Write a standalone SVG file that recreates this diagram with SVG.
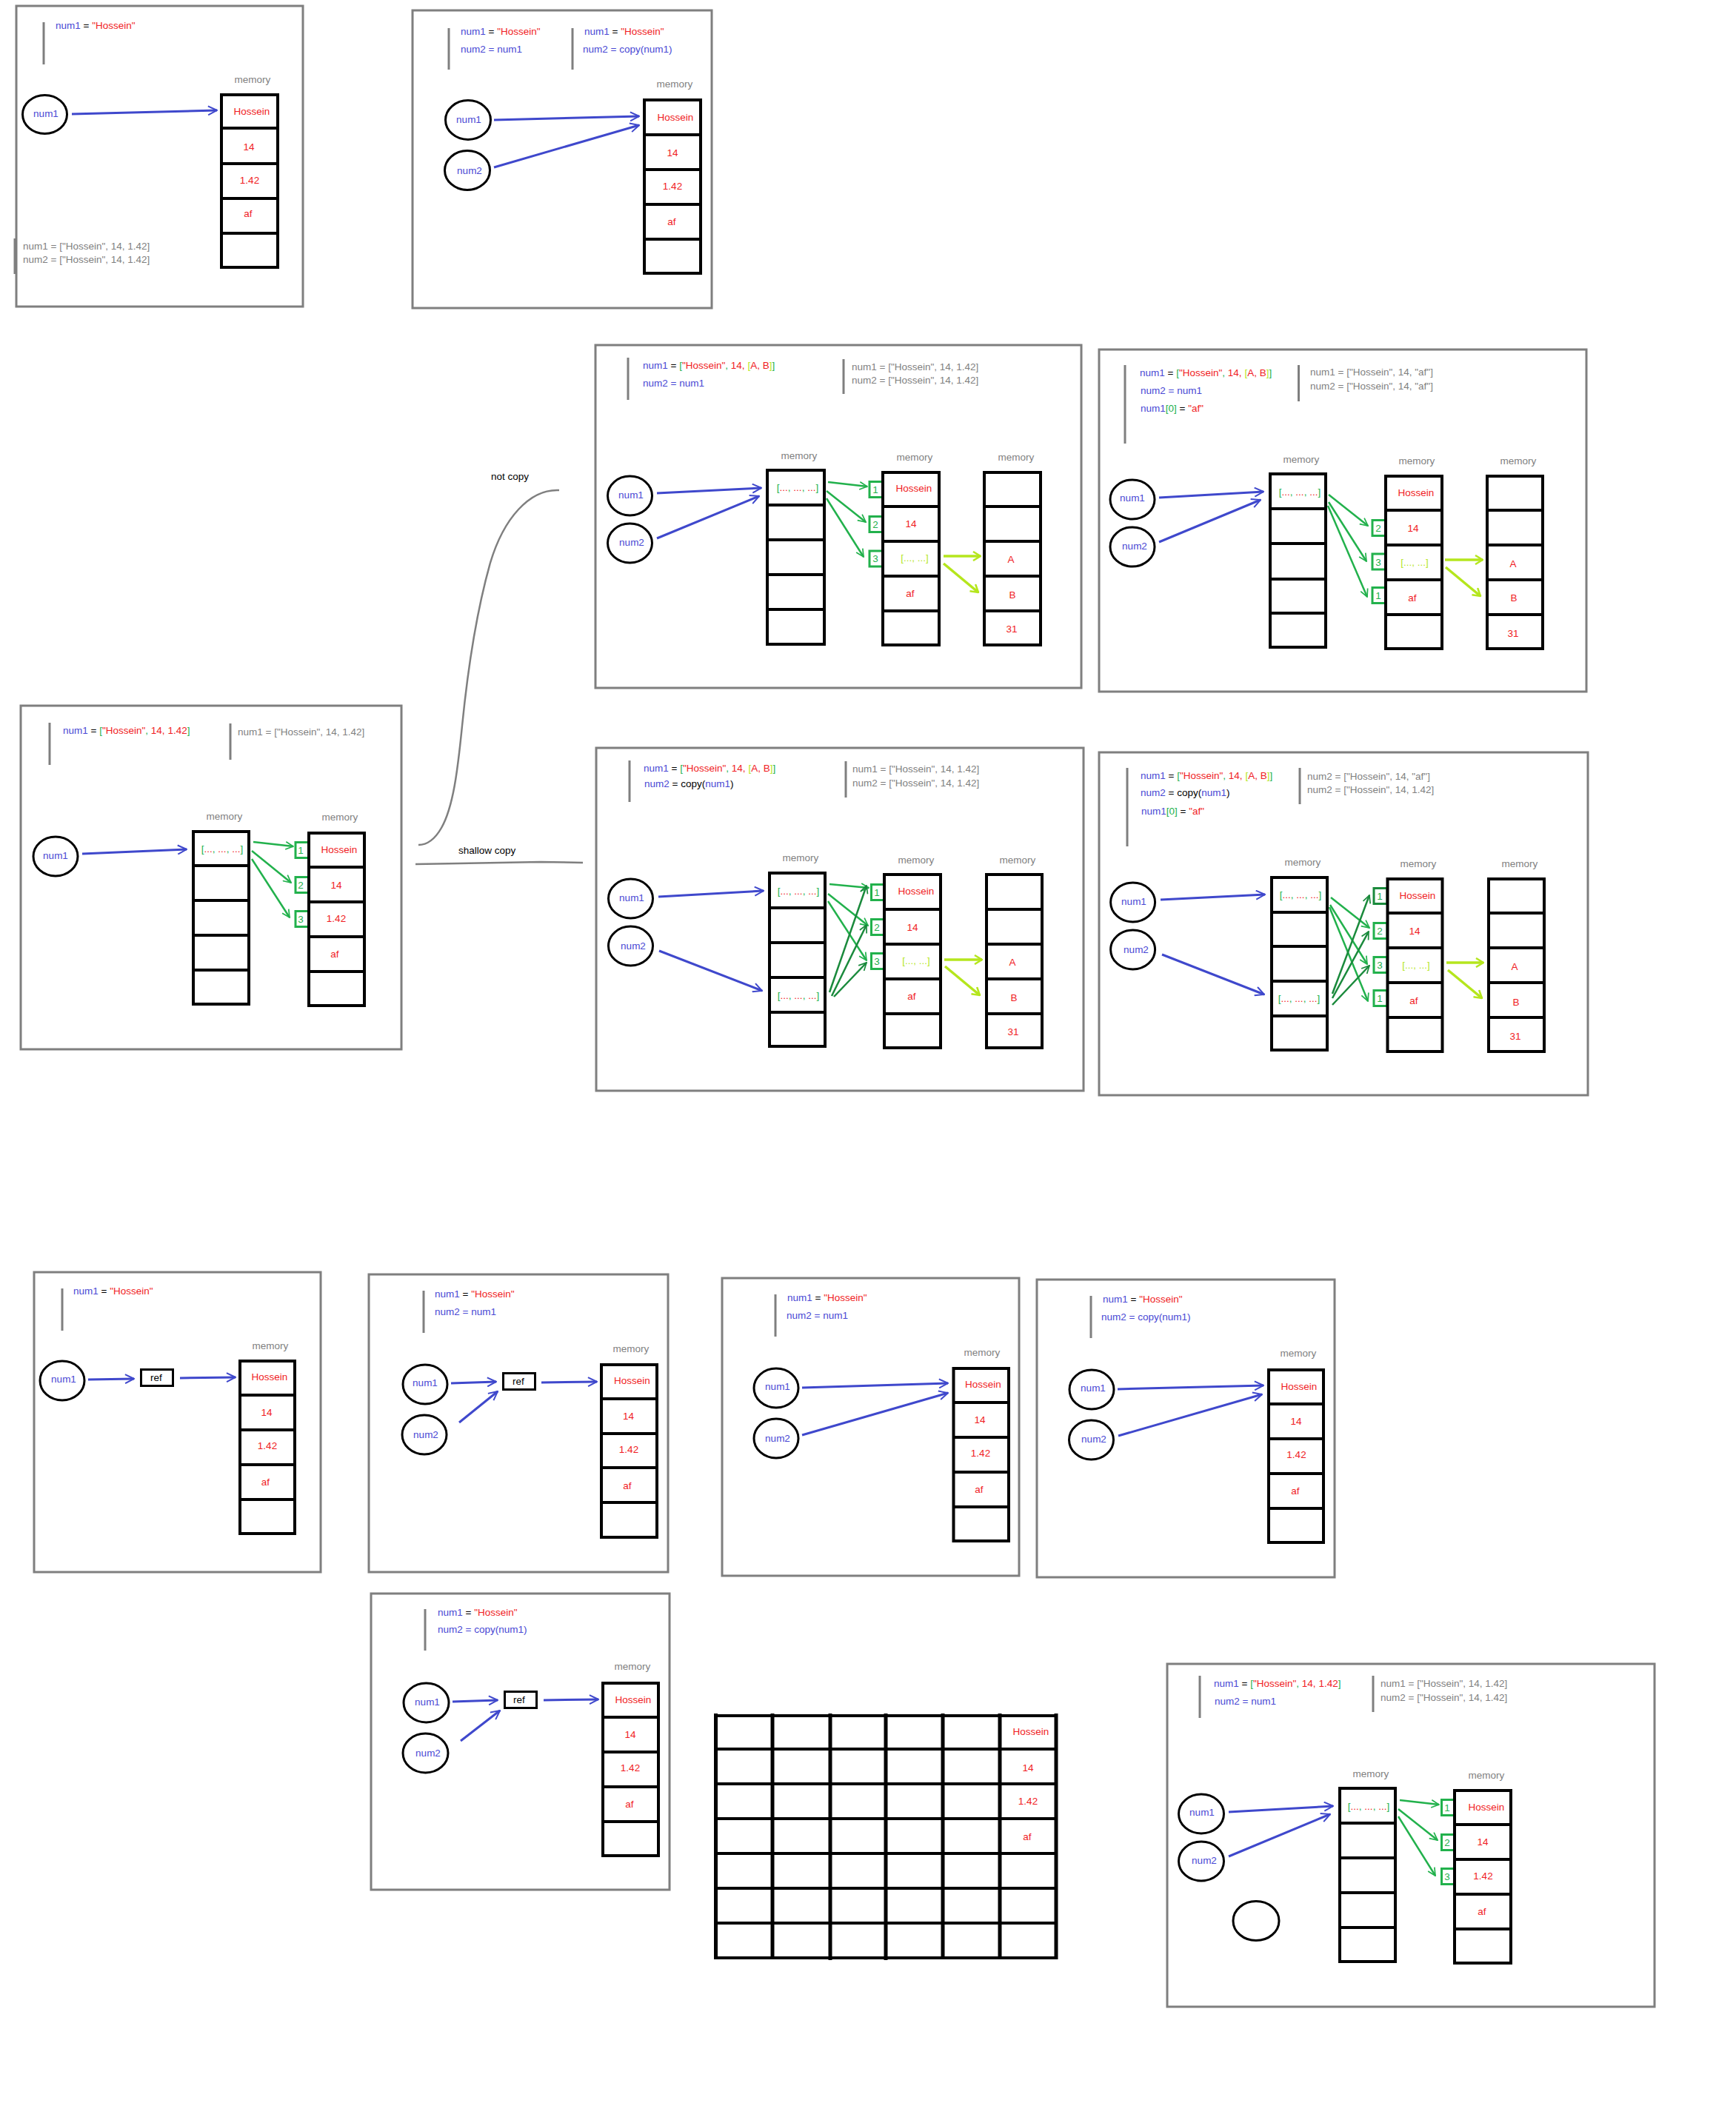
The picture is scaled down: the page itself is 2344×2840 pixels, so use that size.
<svg xmlns="http://www.w3.org/2000/svg" width="2344" height="2840" viewBox="0 0 2344 2840">
<defs>
<style>
.f{fill:none;stroke:#7f7f7f;stroke-width:3}
.bar{stroke:#7f7f7f;stroke-width:3}
.m{fill:#fff;stroke:#000;stroke-width:4}
.d{fill:none;stroke:#000;stroke-width:4}
.v{fill:#fff;stroke:#000;stroke-width:3}
.rf{fill:#fff;stroke:#000;stroke-width:3}
.bx{fill:#fff;stroke:#22b14c;stroke-width:3}
.bxd{fill:#fff;stroke:#1a8a3c;stroke-width:3}
text{font-family:"Liberation Sans",Arial,sans-serif;font-size:13.5px;fill:#000}
.c{text-anchor:middle}
.b{fill:#4848d4}
.r{fill:#f01c24}
.g{fill:#7f7f7f}
.gr{fill:#22b14c}
.y{fill:#b5e61d}
.ab{stroke:#3f48cc;stroke-width:3;fill:none;marker-end:url(#mb)}
.ag{stroke:#22b14c;stroke-width:2.5;fill:none;marker-end:url(#mg)}
.ad{stroke:#1a8a3c;stroke-width:2.5;fill:none;marker-end:url(#md)}
.ay{stroke:#b5e61d;stroke-width:3.5;fill:none;marker-end:url(#my)}
.cv{fill:none;stroke:#7f7f7f;stroke-width:2.5}
.gl{fill:none;stroke:#000;stroke-width:5}
.gh{fill:none;stroke:#000;stroke-width:4}
</style>
<marker id="mb" viewBox="0 0 14 14" refX="13" refY="7" markerWidth="14" markerHeight="14" markerUnits="userSpaceOnUse" orient="auto"><path d="M1,1 L13,7 L1,13" fill="none" stroke="#3f48cc" stroke-width="2"/></marker>
<marker id="mg" viewBox="0 0 14 14" refX="13" refY="7" markerWidth="12" markerHeight="12" markerUnits="userSpaceOnUse" orient="auto"><path d="M1,1 L13,7 L1,13" fill="none" stroke="#22b14c" stroke-width="2"/></marker>
<marker id="md" viewBox="0 0 14 14" refX="13" refY="7" markerWidth="12" markerHeight="12" markerUnits="userSpaceOnUse" orient="auto"><path d="M1,1 L13,7 L1,13" fill="none" stroke="#1a8a3c" stroke-width="2"/></marker>
<marker id="my" viewBox="0 0 14 14" refX="13" refY="7" markerWidth="14" markerHeight="14" markerUnits="userSpaceOnUse" orient="auto"><path d="M3,1 L13,7 L3,13" fill="none" stroke="#b5e61d" stroke-width="2.5"/></marker>
</defs>
<rect width="2344" height="2840" fill="#fff"/>

<!-- Panel 1 -->
<g id="p1">
<rect class="f" x="22" y="8" width="387" height="406"/>
<g id="p1-code">
<line class="bar" x1="59" y1="30" x2="59" y2="87"/>
<text x="75" y="39"><tspan class="b">num1</tspan> = <tspan class="r">"Hossein"</tspan></text>
<line x1="20.5" y1="322" x2="20.5" y2="370" stroke="#7f7f7f" stroke-width="4"/>
<text class="g" x="31" y="337">num1 = ["Hossein", 14, 1.42]</text>
<text class="g" x="31" y="355">num2 = ["Hossein", 14, 1.42]</text>
</g>
<g id="p1-num1"><ellipse class="v" cx="60.5" cy="154.5" rx="30" ry="26"/><text class="c b" x="62" y="158">num1</text></g>
<g id="p1-mem">
<text class="c g" x="341" y="112">memory</text>
<rect class="m" x="299" y="128" width="76" height="233"/>
<path class="d" d="M299 173H375M299 221H375M299 268H375M299 315H375"/>
<text class="c r" x="340" y="155">Hossein</text><text class="c r" x="336" y="203">14</text><text class="c r" x="337" y="248">1.42</text><text class="c r" x="335" y="293">af</text>
</g>
<g id="p1-connectors"><line class="ab" x1="97" y1="154" x2="293" y2="149"/></g>
</g>

<!-- Panel 2 -->
<g id="p2">
<rect class="f" x="557" y="14" width="404" height="402"/>
<g id="p2-code">
<line class="bar" x1="606" y1="38" x2="606" y2="94"/>
<text x="622" y="47"><tspan class="b">num1</tspan> = <tspan class="r">"Hossein"</tspan></text>
<text x="622" y="71" class="b">num2 = num1</text>
<line class="bar" x1="773" y1="38" x2="773" y2="94"/>
<text x="789" y="47"><tspan class="b">num1</tspan> = <tspan class="r">"Hossein"</tspan></text>
<text x="787" y="71" class="b">num2 = copy(num1)</text>
</g>
<g id="p2-num1"><ellipse class="v" cx="632" cy="162" rx="30.5" ry="26.5"/><text class="c b" x="633" y="166">num1</text></g>
<g id="p2-num2"><ellipse class="v" cx="631" cy="230" rx="30.5" ry="26.5"/><text class="c b" x="634" y="235">num2</text></g>
<g id="p2-mem">
<text class="c g" x="911" y="118">memory</text>
<rect class="m" x="870" y="135" width="76" height="234"/>
<path class="d" d="M870 182H946M870 229H946M870 276H946M870 323H946"/>
<text class="c r" x="912" y="163">Hossein</text><text class="c r" x="908" y="211">14</text><text class="c r" x="908" y="256">1.42</text><text class="c r" x="907" y="304">af</text>
</g>
<g id="p2-connectors">
<line class="ab" x1="667" y1="162" x2="863" y2="157"/>
<line class="ab" x1="667" y1="226" x2="863" y2="169"/>
</g>
</g>

<!-- Annotations between panels -->
<g id="annotations">
<path class="cv" d="M755,662 C715,660 680,700 662,760 C645,820 632,900 624,980 C618,1040 612,1090 596,1118 C588,1132 578,1141 565,1141"/>
<text x="663" y="648">not copy</text>
<text x="619" y="1153">shallow copy</text>
<path class="cv" d="M561,1167 L620,1166 L675,1165 L730,1164 L787,1165" stroke-width="3"/>
</g>

<!-- Panel 3 -->
<g id="p3">
<rect class="f" x="804" y="466" width="656" height="463"/>
<g id="p3-code">
<line class="bar" x1="848" y1="483" x2="848" y2="540"/>
<text x="868" y="498"><tspan class="b">num1</tspan> = <tspan class="gr">[</tspan><tspan class="r">"Hossein"</tspan><tspan class="gr">,</tspan> <tspan class="r">14,</tspan> <tspan class="y">[</tspan><tspan class="r">A,</tspan> <tspan class="r">B</tspan><tspan class="y">]</tspan><tspan class="gr">]</tspan></text>
<text x="868" y="522" class="b">num2 = num1</text>
<line class="bar" x1="1139" y1="485" x2="1139" y2="532"/>
<text class="g" x="1150" y="500">num1 = ["Hossein", 14, 1.42]</text>
<text class="g" x="1150" y="518">num2 = ["Hossein", 14, 1.42]</text>
</g>
<g id="p3-num1"><ellipse class="v" cx="850.5" cy="669.5" rx="30" ry="26.5"/><text class="c b" x="852" y="673">num1</text></g>
<g id="p3-num2"><ellipse class="v" cx="850.5" cy="733.5" rx="30" ry="26.5"/><text class="c b" x="853" y="737">num2</text></g>
<g id="p3-mem1">
<text class="c g" x="1079" y="620">memory</text>
<rect class="m" x="1036" y="635" width="77" height="235"/>
<path class="d" d="M1036 682H1113M1036 729H1113M1036 776H1113M1036 823H1113"/>
<text class="c" x="1077" y="663"><tspan class="gr">[</tspan><tspan class="r">...</tspan><tspan class="gr">,</tspan> <tspan class="r">...</tspan><tspan class="gr">,</tspan> <tspan class="r">...</tspan><tspan class="gr">]</tspan></text>
</g>
<g id="p3-mem2">
<text class="c g" x="1235" y="622">memory</text>
<rect class="bx" x="1174" y="650.5" width="18" height="21"/><text class="c gr" x="1182" y="666">1</text>
<rect class="bx" x="1174" y="697.5" width="18" height="21"/><text class="c gr" x="1182" y="713">2</text>
<rect class="bx" x="1174" y="744" width="18" height="21"/><text class="c gr" x="1182" y="759">3</text>
<rect class="m" x="1192" y="638" width="76" height="233"/>
<path class="d" d="M1192 684H1268M1192 731H1268M1192 778H1268M1192 825H1268"/>
<text class="c r" x="1234" y="664">Hossein</text><text class="c r" x="1230" y="712">14</text><text class="c y" x="1235" y="758">[..., ...]</text><text class="c r" x="1229" y="806">af</text>
</g>
<g id="p3-mem3">
<text class="c g" x="1372" y="622">memory</text>
<rect class="m" x="1329" y="638" width="76" height="233"/>
<path class="d" d="M1329 684H1405M1329 731H1405M1329 778H1405M1329 825H1405"/>
<text class="c r" x="1365" y="760">A</text><text class="c r" x="1367" y="808">B</text><text class="c r" x="1366" y="854">31</text>
</g>
<g id="p3-connectors">
<line class="ab" x1="887" y1="666" x2="1028" y2="659"/>
<line class="ab" x1="887" y1="727" x2="1025" y2="670"/>
<line class="ag" x1="1118" y1="651" x2="1171" y2="657"/>
<line class="ag" x1="1116" y1="663" x2="1169" y2="705"/>
<line class="ag" x1="1116" y1="673" x2="1166" y2="752"/>
<line class="ay" x1="1274" y1="751" x2="1324" y2="751"/>
<line class="ay" x1="1274" y1="761" x2="1321" y2="800"/>
</g>
</g>

<!-- Panel 4 -->
<g id="p4">
<rect class="f" x="1484" y="472" width="658" height="462"/>
<g id="p4-code">
<line class="bar" x1="1519" y1="493" x2="1519" y2="599"/>
<text x="1539" y="508"><tspan class="b">num1</tspan> = <tspan class="gr">[</tspan><tspan class="r">"Hossein"</tspan><tspan class="gr">,</tspan> <tspan class="r">14,</tspan> <tspan class="y">[</tspan><tspan class="r">A,</tspan> <tspan class="r">B</tspan><tspan class="y">]</tspan><tspan class="gr">]</tspan></text>
<text x="1540" y="532" class="b">num2 = num1</text>
<text x="1540" y="556"><tspan class="b">num1</tspan><tspan class="gr">[0]</tspan> = <tspan class="r">"af"</tspan></text>
<line class="bar" x1="1753.5" y1="493" x2="1753.5" y2="542"/>
<text class="g" x="1769" y="507">num1 = ["Hossein", 14, "af"]</text>
<text class="g" x="1769" y="526">num2 = ["Hossein", 14, "af"]</text>
</g>
<g id="p4-num1"><ellipse class="v" cx="1529" cy="674.5" rx="30" ry="26.5"/><text class="c b" x="1529" y="677">num1</text></g>
<g id="p4-num2"><ellipse class="v" cx="1529" cy="738.5" rx="30" ry="26.5"/><text class="c b" x="1532" y="742">num2</text></g>
<g id="p4-mem1">
<text class="c g" x="1757" y="625">memory</text>
<rect class="m" x="1715" y="640" width="75" height="234"/>
<path class="d" d="M1715 687H1790M1715 734H1790M1715 782H1790M1715 828H1790"/>
<text class="c" x="1755" y="669"><tspan class="gr">[</tspan><tspan class="r">...</tspan><tspan class="gr">,</tspan> <tspan class="r">...</tspan><tspan class="gr">,</tspan> <tspan class="r">...</tspan><tspan class="gr">]</tspan></text>
</g>
<g id="p4-mem2">
<text class="c g" x="1913" y="627">memory</text>
<rect class="bx" x="1853" y="702.5" width="18" height="21"/><text class="c gr" x="1861" y="718">2</text>
<rect class="bx" x="1853" y="748" width="18" height="21"/><text class="c gr" x="1861" y="764">3</text>
<rect class="bx" x="1853" y="793.5" width="18" height="21"/><text class="c gr" x="1861" y="809">1</text>
<rect class="m" x="1871" y="643" width="76" height="233"/>
<path class="d" d="M1871 689H1947M1871 736H1947M1871 783H1947M1871 830H1947"/>
<text class="c r" x="1912" y="670">Hossein</text><text class="c r" x="1908" y="718">14</text><text class="c y" x="1910" y="764">[..., ...]</text><text class="c r" x="1907" y="812">af</text>
</g>
<g id="p4-mem3">
<text class="c g" x="2050" y="627">memory</text>
<rect class="m" x="2008" y="643" width="75" height="233"/>
<path class="d" d="M2008 689H2083M2008 736H2083M2008 783H2083M2008 830H2083"/>
<text class="c r" x="2043" y="766">A</text><text class="c r" x="2044" y="812">B</text><text class="c r" x="2043" y="860">31</text>
</g>
<g id="p4-connectors">
<line class="ab" x1="1565" y1="672" x2="1706" y2="664"/>
<line class="ab" x1="1565" y1="732" x2="1702" y2="675"/>
<line class="ag" x1="1794" y1="668" x2="1847" y2="710"/>
<line class="ag" x1="1794" y1="678" x2="1845" y2="758"/>
<line class="ag" x1="1793" y1="683" x2="1846" y2="806"/>
<line class="ay" x1="1951" y1="756" x2="2002" y2="756"/>
<line class="ay" x1="1952" y1="766" x2="1999" y2="805"/>
</g>
</g>

<!-- Panel 5 -->
<g id="p5">
<rect class="f" x="28" y="953" width="514" height="464"/>
<g id="p5-code">
<line class="bar" x1="67" y1="976" x2="67" y2="1033"/>
<text x="85" y="991"><tspan class="b">num1</tspan> = <tspan class="gr">[</tspan><tspan class="r">"Hossein"</tspan><tspan class="gr">,</tspan> <tspan class="r">14,</tspan> <tspan class="r">1.42</tspan><tspan class="gr">]</tspan></text>
<line class="bar" x1="311" y1="977" x2="311" y2="1026"/>
<text class="g" x="321" y="993">num1 = ["Hossein", 14, 1.42]</text>
</g>
<g id="p5-num1"><ellipse class="v" cx="75" cy="1156.5" rx="30" ry="26.5"/><text class="c b" x="75" y="1160">num1</text></g>
<g id="p5-mem1">
<text class="c g" x="303" y="1107">memory</text>
<rect class="m" x="261" y="1123" width="75" height="233"/>
<path class="d" d="M261 1169H336M261 1216H336M261 1263H336M261 1310H336"/>
<text class="c" x="300" y="1151"><tspan class="gr">[</tspan><tspan class="r">...</tspan><tspan class="gr">,</tspan> <tspan class="r">...</tspan><tspan class="gr">,</tspan> <tspan class="r">...</tspan><tspan class="gr">]</tspan></text>
</g>
<g id="p5-mem2">
<text class="c g" x="459" y="1108">memory</text>
<rect class="bx" x="399" y="1137.5" width="18" height="21"/><text class="c gr" x="406" y="1153">1</text>
<rect class="bx" x="399" y="1184.5" width="18" height="21"/><text class="c gr" x="406" y="1200">2</text>
<rect class="bx" x="399" y="1230.5" width="18" height="21"/><text class="c gr" x="406" y="1246">3</text>
<rect class="m" x="417" y="1125" width="75" height="233"/>
<path class="d" d="M417 1171H492M417 1218H492M417 1265H492M417 1312H492"/>
<text class="c r" x="458" y="1152">Hossein</text><text class="c r" x="454" y="1200">14</text><text class="c r" x="454" y="1245">1.42</text><text class="c r" x="452" y="1293">af</text>
</g>
<g id="p5-connectors">
<line class="ab" x1="111" y1="1153" x2="252" y2="1147"/>
<line class="ag" x1="342" y1="1137" x2="396" y2="1143"/>
<line class="ag" x1="340" y1="1149" x2="393" y2="1192"/>
<line class="ag" x1="340" y1="1160" x2="391" y2="1239"/>
</g>
</g>

<!-- Panel 6 -->
<g id="p6">
<rect class="f" x="805" y="1010" width="658" height="463"/>
<g id="p6-code">
<line class="bar" x1="850" y1="1027" x2="850" y2="1083"/>
<text x="869" y="1042"><tspan class="b">num1</tspan> = <tspan class="gr">[</tspan><tspan class="r">"Hossein"</tspan><tspan class="gr">,</tspan> <tspan class="r">14,</tspan> <tspan class="y">[</tspan><tspan class="r">A,</tspan> <tspan class="r">B</tspan><tspan class="y">]</tspan><tspan class="gr">]</tspan></text>
<text x="870" y="1063"><tspan class="b">num2</tspan> = copy(<tspan class="b">num1</tspan>)</text>
<line class="bar" x1="1142" y1="1028" x2="1142" y2="1077"/>
<text class="g" x="1151" y="1043">num1 = ["Hossein", 14, 1.42]</text>
<text class="g" x="1151" y="1062">num2 = ["Hossein", 14, 1.42]</text>
</g>
<g id="p6-num1"><ellipse class="v" cx="851.5" cy="1213.5" rx="30" ry="26.5"/><text class="c b" x="853" y="1217">num1</text></g>
<g id="p6-num2"><ellipse class="v" cx="851.5" cy="1277.5" rx="30" ry="26.5"/><text class="c b" x="855" y="1282">num2</text></g>
<g id="p6-mem1">
<text class="c g" x="1081" y="1163">memory</text>
<rect class="m" x="1039" y="1179" width="75" height="234"/>
<path class="d" d="M1039 1226H1114M1039 1273H1114M1039 1320H1114M1039 1367H1114"/>
<text class="c" x="1078" y="1208"><tspan class="gr">[</tspan><tspan class="r">...</tspan><tspan class="gr">,</tspan> <tspan class="r">...</tspan><tspan class="gr">,</tspan> <tspan class="r">...</tspan><tspan class="gr">]</tspan></text>
<text class="c" x="1078" y="1349"><tspan class="gr">[</tspan><tspan class="r">...</tspan><tspan class="gr">,</tspan> <tspan class="r">...</tspan><tspan class="gr">,</tspan> <tspan class="r">...</tspan><tspan class="gr">]</tspan></text>
</g>
<g id="p6-mem2">
<text class="c g" x="1237" y="1166">memory</text>
<rect class="bx" x="1176.5" y="1194.5" width="17.5" height="21"/><text class="c gr" x="1184" y="1210">1</text>
<rect class="bx" x="1176.5" y="1241.5" width="17.5" height="21"/><text class="c gr" x="1184" y="1257">2</text>
<rect class="bx" x="1176.5" y="1287.5" width="17.5" height="21"/><text class="c gr" x="1184" y="1303">3</text>
<rect class="m" x="1194" y="1181" width="76" height="234"/>
<path class="d" d="M1194 1228H1270M1194 1275H1270M1194 1322H1270M1194 1369H1270"/>
<text class="c r" x="1237" y="1208">Hossein</text><text class="c r" x="1232" y="1257">14</text><text class="c y" x="1237" y="1302">[..., ...]</text><text class="c r" x="1231" y="1350">af</text>
</g>
<g id="p6-mem3">
<text class="c g" x="1374" y="1166">memory</text>
<rect class="m" x="1332" y="1181" width="75" height="234"/>
<path class="d" d="M1332 1228H1407M1332 1275H1407M1332 1322H1407M1332 1369H1407"/>
<text class="c r" x="1367" y="1304">A</text><text class="c r" x="1369" y="1352">B</text><text class="c r" x="1368" y="1398">31</text>
</g>
<g id="p6-connectors">
<line class="ab" x1="889" y1="1211" x2="1031" y2="1203"/>
<line class="ab" x1="890" y1="1284" x2="1029" y2="1338"/>
<line class="ag" x1="1120" y1="1194" x2="1173" y2="1199"/>
<line class="ag" x1="1118" y1="1207" x2="1172" y2="1250"/>
<line class="ag" x1="1118" y1="1217" x2="1170" y2="1297"/>
<line class="ad" x1="1120" y1="1340" x2="1170" y2="1196"/>
<line class="ad" x1="1123" y1="1345" x2="1170" y2="1249"/>
<line class="ad" x1="1126" y1="1346" x2="1170" y2="1300"/>
<line class="ay" x1="1275" y1="1296" x2="1326" y2="1296"/>
<line class="ay" x1="1276" y1="1305" x2="1323" y2="1344"/>
</g>
</g>

<!-- Panel 7 -->
<g id="p7">
<rect class="f" x="1484" y="1016" width="660" height="463"/>
<g id="p7-code">
<line class="bar" x1="1522" y1="1037" x2="1522" y2="1143"/>
<text x="1540" y="1052"><tspan class="b">num1</tspan> = <tspan class="gr">[</tspan><tspan class="r">"Hossein"</tspan><tspan class="gr">,</tspan> <tspan class="r">14,</tspan> <tspan class="y">[</tspan><tspan class="r">A,</tspan> <tspan class="r">B</tspan><tspan class="y">]</tspan><tspan class="gr">]</tspan></text>
<text x="1540" y="1075"><tspan class="b">num2</tspan> = copy(<tspan class="b">num1</tspan>)</text>
<text x="1541" y="1100"><tspan class="b">num1</tspan><tspan class="gr">[0]</tspan> = <tspan class="r">"af"</tspan></text>
<line class="bar" x1="1755" y1="1037" x2="1755" y2="1086"/>
<text class="g" x="1765" y="1053">num2 = ["Hossein", 14, "af"]</text>
<text class="g" x="1765" y="1071">num2 = ["Hossein", 14, 1.42]</text>
</g>
<g id="p7-num1"><ellipse class="v" cx="1529.6" cy="1218.5" rx="30" ry="26.5"/><text class="c b" x="1531" y="1222">num1</text></g>
<g id="p7-num2"><ellipse class="v" cx="1529.6" cy="1282.5" rx="30" ry="26.5"/><text class="c b" x="1534" y="1287">num2</text></g>
<g id="p7-mem1">
<text class="c g" x="1759" y="1169">memory</text>
<rect class="m" x="1717" y="1185" width="75" height="233"/>
<path class="d" d="M1717 1232H1792M1717 1278H1792M1717 1325H1792M1717 1372H1792"/>
<text class="c" x="1756" y="1213"><tspan class="gr">[</tspan><tspan class="r">...</tspan><tspan class="gr">,</tspan> <tspan class="r">...</tspan><tspan class="gr">,</tspan> <tspan class="r">...</tspan><tspan class="gr">]</tspan></text>
<text class="c" x="1754" y="1353"><tspan class="gr">[</tspan><tspan class="r">...</tspan><tspan class="gr">,</tspan> <tspan class="r">...</tspan><tspan class="gr">,</tspan> <tspan class="r">...</tspan><tspan class="gr">]</tspan></text>
</g>
<g id="p7-mem2">
<text class="c g" x="1915" y="1171">memory</text>
<rect class="bxd" x="1855" y="1199.5" width="18" height="21"/><text class="c gr" x="1863" y="1215">1</text>
<rect class="bx" x="1855" y="1246.5" width="18" height="21"/><text class="c gr" x="1863" y="1262">2</text>
<rect class="bx" x="1855" y="1292.5" width="18" height="21"/><text class="c gr" x="1863" y="1308">3</text>
<rect class="bx" x="1855" y="1337.5" width="18" height="21"/><text class="c gr" x="1863" y="1353">1</text>
<rect class="m" x="1873.5" y="1187" width="74" height="233"/>
<path class="d" d="M1873.5 1233H1947.5M1873.5 1280H1947.5M1873.5 1327H1947.5M1873.5 1374H1947.5"/>
<text class="c r" x="1914" y="1214">Hossein</text><text class="c r" x="1910" y="1262">14</text><text class="c y" x="1912" y="1308">[..., ...]</text><text class="c r" x="1909" y="1356">af</text>
</g>
<g id="p7-mem3">
<text class="c g" x="2052" y="1171">memory</text>
<rect class="m" x="2010" y="1187" width="75" height="233"/>
<path class="d" d="M2010 1233H2085M2010 1280H2085M2010 1327H2085M2010 1374H2085"/>
<text class="c r" x="2045" y="1310">A</text><text class="c r" x="2047" y="1358">B</text><text class="c r" x="2046" y="1404">31</text>
</g>
<g id="p7-connectors">
<line class="ab" x1="1567" y1="1215" x2="1708" y2="1208"/>
<line class="ab" x1="1569" y1="1289" x2="1707" y2="1343"/>
<line class="ag" x1="1797" y1="1212" x2="1849" y2="1253"/>
<line class="ag" x1="1796" y1="1222" x2="1846" y2="1302"/>
<line class="ag" x1="1795" y1="1225" x2="1847" y2="1352"/>
<line class="ad" x1="1799" y1="1342" x2="1849" y2="1209"/>
<line class="ad" x1="1799" y1="1348" x2="1848" y2="1258"/>
<line class="ad" x1="1799" y1="1357" x2="1849" y2="1304"/>
<line class="ay" x1="1953" y1="1300" x2="2003" y2="1300"/>
<line class="ay" x1="1955" y1="1310" x2="2001" y2="1348"/>
</g>
</g>

<!-- Panel 8 -->
<g id="p8">
<rect class="f" x="46" y="1718" width="387" height="405"/>
<g id="p8-code">
<line class="bar" x1="84" y1="1740" x2="84" y2="1797"/>
<text x="99" y="1748"><tspan class="b">num1</tspan> = <tspan class="r">"Hossein"</tspan></text>
</g>
<g id="p8-num1"><ellipse class="v" cx="84" cy="1864.5" rx="30" ry="26.5"/><text class="c b" x="86" y="1867">num1</text></g>
<g id="p8-ref"><rect class="rf" x="190.5" y="1849.5" width="43" height="22"/><text class="c" x="211" y="1865">ref</text></g>
<g id="p8-mem">
<text class="c g" x="365" y="1822">memory</text>
<rect class="m" x="324" y="1838" width="74" height="233"/>
<path class="d" d="M324 1884H398M324 1931H398M324 1978H398M324 2025H398"/>
<text class="c r" x="364" y="1864">Hossein</text><text class="c r" x="360" y="1912">14</text><text class="c r" x="361" y="1957">1.42</text><text class="c r" x="358.5" y="2006">af</text>
</g>
<g id="p8-connectors">
<line class="ab" x1="119" y1="1863" x2="181" y2="1862"/>
<line class="ab" x1="243" y1="1861" x2="318" y2="1860"/>
</g>
</g>

<!-- Panel 9 -->
<g id="p9">
<rect class="f" x="498" y="1721" width="404" height="402"/>
<g id="p9-code">
<line class="bar" x1="572" y1="1743" x2="572" y2="1800"/>
<text x="587" y="1752"><tspan class="b">num1</tspan> = <tspan class="r">"Hossein"</tspan></text>
<text x="587" y="1776" class="b">num2 = num1</text>
</g>
<g id="p9-num1"><ellipse class="v" cx="574" cy="1869.5" rx="30" ry="26.5"/><text class="c b" x="574" y="1872">num1</text></g>
<g id="p9-num2"><ellipse class="v" cx="573" cy="1937.5" rx="30" ry="26.5"/><text class="c b" x="575" y="1942">num2</text></g>
<g id="p9-ref"><rect class="rf" x="679.5" y="1854.5" width="43" height="22"/><text class="c" x="700" y="1870">ref</text></g>
<g id="p9-mem">
<text class="c g" x="852" y="1826">memory</text>
<rect class="m" x="812" y="1843" width="75" height="233"/>
<path class="d" d="M812 1889H887M812 1936H887M812 1982H887M812 2029H887"/>
<text class="c r" x="853.5" y="1869">Hossein</text><text class="c r" x="848.5" y="1917">14</text><text class="c r" x="849" y="1962">1.42</text><text class="c r" x="847" y="2011">af</text>
</g>
<g id="p9-connectors">
<line class="ab" x1="609" y1="1868" x2="670" y2="1866"/>
<line class="ab" x1="620" y1="1921" x2="672" y2="1879"/>
<line class="ab" x1="731" y1="1867" x2="806" y2="1866"/>
</g>
</g>

<!-- Panel 10 -->
<g id="p10">
<rect class="f" x="975" y="1726" width="401" height="402"/>
<g id="p10-code">
<line class="bar" x1="1047" y1="1748" x2="1047" y2="1805"/>
<text x="1063" y="1757"><tspan class="b">num1</tspan> = <tspan class="r">"Hossein"</tspan></text>
<text x="1062" y="1781" class="b">num2 = num1</text>
</g>
<g id="p10-num1"><ellipse class="v" cx="1048" cy="1874.5" rx="30" ry="26.5"/><text class="c b" x="1050" y="1877">num1</text></g>
<g id="p10-num2"><ellipse class="v" cx="1048" cy="1942.5" rx="30" ry="26.5"/><text class="c b" x="1050" y="1947">num2</text></g>
<g id="p10-mem">
<text class="c g" x="1326" y="1831">memory</text>
<rect class="m" x="1287.5" y="1848" width="74.5" height="233"/>
<path class="d" d="M1287.5 1894H1362M1287.5 1941H1362M1287.5 1988H1362M1287.5 2035H1362"/>
<text class="c r" x="1327.5" y="1874">Hossein</text><text class="c r" x="1323" y="1922">14</text><text class="c r" x="1324" y="1967">1.42</text><text class="c r" x="1322" y="2016">af</text>
</g>
<g id="p10-connectors">
<line class="ab" x1="1083" y1="1874" x2="1280" y2="1868"/>
<line class="ab" x1="1083" y1="1938" x2="1280" y2="1881"/>
</g>
</g>

<!-- Panel 11 -->
<g id="p11">
<rect class="f" x="1400" y="1728" width="402" height="402"/>
<g id="p11-code">
<line class="bar" x1="1473" y1="1750" x2="1473" y2="1807"/>
<text x="1489" y="1759"><tspan class="b">num1</tspan> = <tspan class="r">"Hossein"</tspan></text>
<text x="1487" y="1783" class="b">num2 = copy(num1)</text>
</g>
<g id="p11-num1"><ellipse class="v" cx="1474" cy="1876.5" rx="30" ry="26.5"/><text class="c b" x="1476" y="1879">num1</text></g>
<g id="p11-num2"><ellipse class="v" cx="1473.5" cy="1944.5" rx="30" ry="26.5"/><text class="c b" x="1477" y="1948">num2</text></g>
<g id="p11-mem">
<text class="c g" x="1753" y="1832">memory</text>
<rect class="m" x="1713" y="1850" width="74" height="233"/>
<path class="d" d="M1713 1896H1787M1713 1943H1787M1713 1990H1787M1713 2037H1787"/>
<text class="c r" x="1754" y="1877">Hossein</text><text class="c r" x="1750" y="1924">14</text><text class="c r" x="1750.5" y="1969">1.42</text><text class="c r" x="1749" y="2018">af</text>
</g>
<g id="p11-connectors">
<line class="ab" x1="1509" y1="1876" x2="1706" y2="1871"/>
<line class="ab" x1="1510" y1="1939" x2="1704" y2="1883"/>
</g>
</g>

<!-- Panel 12 -->
<g id="p12">
<rect class="f" x="501" y="2152" width="403" height="400"/>
<g id="p12-code">
<line class="bar" x1="574" y1="2173" x2="574" y2="2229"/>
<text x="591" y="2182"><tspan class="b">num1</tspan> = <tspan class="r">"Hossein"</tspan></text>
<text x="591" y="2205" class="b">num2 = copy(num1)</text>
</g>
<g id="p12-num1"><ellipse class="v" cx="575.5" cy="2299.5" rx="30.5" ry="26.5"/><text class="c b" x="577" y="2303">num1</text></g>
<g id="p12-num2"><ellipse class="v" cx="574.5" cy="2367.5" rx="30.5" ry="26.5"/><text class="c b" x="578" y="2372">num2</text></g>
<g id="p12-ref"><rect class="rf" x="681.5" y="2284.5" width="43" height="22"/><text class="c" x="701" y="2300">ref</text></g>
<g id="p12-mem">
<text class="c g" x="854" y="2255">memory</text>
<rect class="m" x="814" y="2273" width="75" height="233"/>
<path class="d" d="M814 2319H889M814 2366H889M814 2413H889M814 2460H889"/>
<text class="c r" x="855" y="2300">Hossein</text><text class="c r" x="851" y="2347">14</text><text class="c r" x="851" y="2392">1.42</text><text class="c r" x="850" y="2441">af</text>
</g>
<g id="p12-connectors">
<line class="ab" x1="611" y1="2298" x2="672" y2="2296"/>
<line class="ab" x1="622" y1="2351" x2="675" y2="2310"/>
<line class="ab" x1="734" y1="2296" x2="808" y2="2295"/>
</g>
</g>

<!-- Memory grid -->
<g id="memory-grid">
<rect x="966" y="2316" width="460" height="328" fill="#fff"/>
<path class="gh" d="M964 2317H1428M964 2362H1428M964 2409H1428M964 2456H1428M964 2503H1428M964 2550H1428M964 2597H1428M964 2644H1428"/>
<path class="gl" d="M966.5 2314V2646M1043 2314V2646M1121 2314V2647M1196 2314V2647M1273 2314V2646M1350 2314V2646M1426 2314V2646"/>
<text class="c r" x="1392" y="2343">Hossein</text><text class="c r" x="1388" y="2392">14</text><text class="c r" x="1388" y="2437">1.42</text><text class="c r" x="1387" y="2485">af</text>
</g>

<!-- Panel 14 -->
<g id="p14">
<rect class="f" x="1576" y="2247" width="658" height="463"/>
<g id="p14-code">
<line class="bar" x1="1620" y1="2263" x2="1620" y2="2320"/>
<text x="1639" y="2278"><tspan class="b">num1</tspan> = <tspan class="gr">[</tspan><tspan class="r">"Hossein"</tspan><tspan class="gr">,</tspan> <tspan class="r">14,</tspan> <tspan class="r">1.42</tspan><tspan class="gr">]</tspan></text>
<text x="1640" y="2302" class="b">num2 = num1</text>
<line class="bar" x1="1854" y1="2263" x2="1854" y2="2312"/>
<text class="g" x="1864" y="2278">num1 = ["Hossein", 14, 1.42]</text>
<text class="g" x="1864" y="2297">num2 = ["Hossein", 14, 1.42]</text>
</g>
<g id="p14-num1"><ellipse class="v" cx="1622" cy="2449.5" rx="30.5" ry="26.5"/><text class="c b" x="1623" y="2452">num1</text></g>
<g id="p14-num2"><ellipse class="v" cx="1622" cy="2513.5" rx="30.5" ry="26.5"/><text class="c b" x="1626" y="2517">num2</text></g>
<g id="p14-empty"><ellipse class="v" cx="1696" cy="2594" rx="31" ry="26.5"/></g>
<g id="p14-mem1">
<text class="c g" x="1851" y="2400">memory</text>
<rect class="m" x="1809" y="2415" width="75" height="234"/>
<path class="d" d="M1809 2462H1884M1809 2509H1884M1809 2556H1884M1809 2603H1884"/>
<text class="c" x="1848" y="2444"><tspan class="gr">[</tspan><tspan class="r">...</tspan><tspan class="gr">,</tspan> <tspan class="r">...</tspan><tspan class="gr">,</tspan> <tspan class="r">...</tspan><tspan class="gr">]</tspan></text>
</g>
<g id="p14-mem2">
<text class="c g" x="2007" y="2402">memory</text>
<rect class="bx" x="1946.5" y="2430.5" width="17.5" height="21"/><text class="c gr" x="1954" y="2446">1</text>
<rect class="bx" x="1946.5" y="2477.5" width="17.5" height="21"/><text class="c gr" x="1954" y="2493">2</text>
<rect class="bx" x="1946.5" y="2523.5" width="17.5" height="21"/><text class="c gr" x="1954" y="2539">3</text>
<rect class="m" x="1964" y="2418" width="76" height="233"/>
<path class="d" d="M1964 2464H2040M1964 2511H2040M1964 2558H2040M1964 2605H2040"/>
<text class="c r" x="2007" y="2445">Hossein</text><text class="c r" x="2002" y="2492">14</text><text class="c r" x="2002.5" y="2538">1.42</text><text class="c r" x="2001" y="2586">af</text>
</g>
<g id="p14-connectors">
<line class="ab" x1="1659" y1="2447" x2="1800" y2="2439"/>
<line class="ab" x1="1659" y1="2507" x2="1796" y2="2450"/>
<line class="ag" x1="1890" y1="2431" x2="1943" y2="2437"/>
<line class="ag" x1="1888" y1="2443" x2="1941" y2="2485"/>
<line class="ag" x1="1888" y1="2453" x2="1938" y2="2533"/>
</g>
</g>
</svg>
